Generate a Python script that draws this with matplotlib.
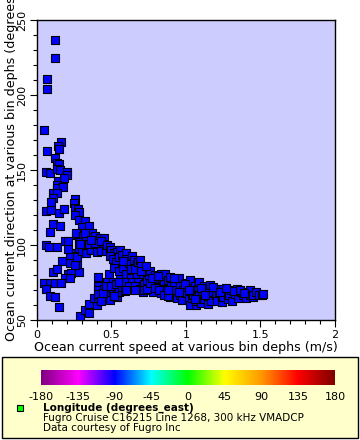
import numpy as np
import matplotlib
matplotlib.use('Agg')
import matplotlib.pyplot as plt
from matplotlib.colors import LinearSegmentedColormap
from matplotlib.patches import Rectangle
from matplotlib.ticker import MultipleLocator

# (speed m/s, direction degrees)
upper_scatter = [(0.12, 237), (0.12, 225), (0.07, 211), (0.07, 204), (0.05, 177),
                 (0.067, 163), (0.16, 168.6), (0.14, 166), (0.15, 164), (0.12, 158),
                 (0.058, 149), (0.087, 148), (0.136, 154.5), (0.148, 153.7), (0.136, 150.7),
                 (0.154, 150), (0.2, 149), (0.2, 147), (0.139, 143), (0.18, 145),
                 (0.134, 140), (0.134, 138), (0.177, 139), (0.11, 134.4), (0.136, 134.4),
                 (0.105, 131.6), (0.092, 128.7), (0.058, 122.7), (0.092, 123.3), (0.148, 121.5),
                 (0.18, 124), (0.11, 114), (0.154, 113), (0.085, 109), (0.255, 131),
                 (0.248, 128), (0.257, 125), (0.273, 124), (0.28, 122), (0.253, 120),
                 (0.28, 117), (0.32, 116), (0.30, 112), (0.35, 113), (0.26, 107),
                 (0.30, 105), (0.37, 108), (0.19, 103), (0.21, 103), (0.28, 104)]

left_cluster = [(0.062, 100), (0.078, 98.5), (0.134, 99), (0.17, 89.5), (0.23, 91),
                (0.26, 95), (0.25, 93), (0.21, 81), (0.23, 81.5), (0.19, 77.8),
                (0.105, 81.8), (0.134, 84), (0.045, 74.6), (0.085, 74.6), (0.12, 74.6),
                (0.16, 74.6), (0.22, 77.8), (0.06, 70.7), (0.09, 66.2), (0.12, 65.6),
                (0.146, 59), (0.21, 97.3), (0.28, 94.4), (0.22, 92), (0.22, 88),
                (0.27, 87), (0.28, 82), (0.255, 87), (0.27, 92)]

lower_branch = [(0.29, 53), (0.32, 57), (0.35, 55), (0.35, 61), (0.40, 60),
                (0.38, 65), (0.41, 64.5), (0.41, 72.7), (0.41, 70), (0.41, 67.3),
                (0.45, 71), (0.48, 70), (0.47, 66.7), (0.51, 69), (0.49, 63.3),
                (0.54, 65.6), (0.41, 79), (0.48, 81), (0.47, 75.6), (0.51, 75.6),
                (0.43, 63), (0.535, 71), (0.44, 68), (0.46, 73), (0.50, 72.5),
                (0.53, 74), (0.55, 68.5), (0.57, 72), (0.58, 76), (0.56, 78.5),
                (0.59, 69.5), (0.52, 66), (0.89, 65.6), (0.65, 72)]

hump = [(0.264, 107.8), (0.31, 106), (0.35, 105.5), (0.39, 106), (0.42, 105),
        (0.45, 104.7), (0.28, 102), (0.33, 103), (0.37, 102.5), (0.41, 103),
        (0.44, 101), (0.28, 98), (0.31, 99.5), (0.34, 98), (0.38, 99),
        (0.41, 98), (0.45, 98.5), (0.30, 96), (0.33, 95), (0.36, 96.5),
        (0.40, 95.5), (0.43, 96), (0.46, 96), (0.29, 101), (0.35, 100.5),
        (0.39, 101.5), (0.32, 108), (0.36, 103.5), (0.43, 102.5), (0.47, 100)]

main_band = [(0.49, 99), (0.50, 96.7), (0.52, 95), (0.54, 95.5), (0.56, 96.7),
             (0.49, 93), (0.51, 91), (0.53, 89), (0.55, 92), (0.57, 93.5),
             (0.52, 85), (0.55, 83), (0.58, 85), (0.60, 94.4), (0.60, 91),
             (0.62, 88), (0.58, 89.5), (0.60, 81), (0.63, 84), (0.64, 93),
             (0.65, 90), (0.67, 87.5), (0.63, 78), (0.67, 80.5), (0.66, 84),
             (0.68, 89), (0.69, 90), (0.70, 86), (0.72, 83), (0.71, 79),
             (0.55, 75.6), (0.60, 75.6), (0.64, 75.6), (0.68, 75.6), (0.62, 72.5),
             (0.66, 73), (0.69, 71), (0.72, 74), (0.60, 70), (0.66, 70),
             (0.71, 69), (0.72, 70), (0.74, 77), (0.75, 80), (0.76, 83),
             (0.77, 73), (0.78, 69), (0.79, 80), (0.80, 76), (0.81, 72),
             (0.83, 81), (0.83, 67.8), (0.84, 78), (0.85, 74), (0.86, 70.5),
             (0.86, 81), (0.88, 76.5), (0.89, 79), (0.90, 72.5), (0.91, 68),
             (0.92, 75), (0.93, 70), (0.94, 64.5), (0.95, 77.8), (0.96, 73),
             (0.96, 66.5), (0.97, 63.3), (0.98, 70), (0.99, 67.8), (1.00, 75),
             (1.01, 72), (1.02, 64), (1.03, 76.7), (1.03, 60), (1.04, 64.5),
             (1.04, 69.5), (1.05, 67), (1.06, 73), (1.07, 60), (1.07, 63),
             (1.08, 70.5), (1.09, 75.6), (1.09, 66.7), (1.10, 61.5), (1.11, 68),
             (1.12, 72.5), (1.12, 64), (1.14, 70), (1.15, 61), (1.16, 73.3),
             (1.16, 66), (1.17, 63), (1.18, 69), (1.20, 71), (1.20, 66.7),
             (1.21, 62.5), (1.22, 68), (1.24, 62), (1.25, 71), (1.25, 65.5),
             (1.27, 68.5), (1.28, 64), (1.29, 66.7), (1.30, 70), (1.31, 63),
             (1.33, 67.5), (1.34, 71), (1.35, 65), (1.37, 68.5), (1.38, 66.7),
             (1.40, 64.7), (1.41, 69), (1.43, 70), (1.43, 67), (1.45, 65.6),
             (1.45, 66.7), (1.47, 68.5), (1.49, 67), (1.51, 66.7), (1.52, 67.5),
             (0.74, 71), (0.76, 75), (0.79, 71.5), (0.82, 70), (0.85, 66.5),
             (0.88, 66), (0.70, 83), (0.73, 86), (0.77, 78), (0.81, 79.5),
             (0.88, 70), (0.92, 78), (0.95, 69), (0.99, 74), (1.02, 70),
             (1.06, 64), (1.10, 71.5), (1.13, 67), (1.18, 72), (1.23, 69),
             (1.27, 71.5), (1.32, 69.5), (1.36, 70), (1.39, 68)]

cbar_ticks = [-180, -135, -90, -45, 0, 45, 90, 135, 180]
cbar_colors = ['#800080', '#ff00ff', '#0000ff', '#00ffff', '#00ff00',
               '#ffff00', '#ff9900', '#ff0000', '#800000']

legend_title = 'Longitude (degrees_east)'
legend_lines = ['Fugro Cruise C16215 Line 1268, 300 kHz VMADCP',
                'Data courtesy of Fugro Inc']

pts = np.array(upper_scatter + left_cluster + lower_branch + hump + main_band)
speed = pts[:, 0]
direction = pts[:, 1]

W, H = 360, 440
fig = plt.figure(figsize=(W / 100, H / 100), dpi=100)

# legend box (drawn first, behind everything)
fig.patches.append(Rectangle((2 / W, 1 - 438 / H), 356 / W, 81 / H,
                             transform=fig.transFigure, facecolor='#ffffcc',
                             edgecolor='black', linewidth=1, zorder=-5))

ax = fig.add_axes([37 / W, 1 - 320 / H, 298 / W, 300 / H])
ax.set_facecolor('#ccccff')
ax.scatter(speed, direction, marker='s', s=26, c='#0000ff',
           edgecolors='black', linewidths=0.8, zorder=3)
ax.set_xlim(0, 2)
ax.set_ylim(50, 250)
ax.xaxis.set_minor_locator(MultipleLocator(0.1))
ax.yaxis.set_major_locator(MultipleLocator(50))
ax.yaxis.set_minor_locator(MultipleLocator(10))
ax.set_xticks([0, 0.5, 1, 1.5, 2])
ax.set_xticklabels(['0', '0.5', '1', '1.5', '2'])
ax.tick_params(which='major', length=5, width=0.8, labelsize=8, pad=2)
ax.tick_params(which='minor', length=3, width=0.8)
ax.tick_params(axis='y', labelrotation=90)
for lab in ax.get_yticklabels():
    lab.set_va('center')
for sp in ax.spines.values():
    sp.set_linewidth(1)

fig.text(186 / W, 1 - 347 / H, 'Ocean current speed at various bin dephs (m/s)',
         ha='center', va='center', fontsize=9.1)
fig.text(12 / W, 1 - 341 / H,
         'Ocean current direction at various bin dephs (degrees_true)',
         rotation=90, ha='center', va='bottom', fontsize=9.1)

cmap = LinearSegmentedColormap.from_list('lon', cbar_colors)
cax = fig.add_axes([41 / W, 1 - 385 / H, 294 / W, 15 / H])
grad = np.linspace(-180, 180, 256).reshape(1, -1)
cax.imshow(grad, aspect='auto', cmap=cmap, extent=[-180, 180, 0, 1])
cax.set_yticks([])
cax.set_xticks(cbar_ticks)
cax.set_xticklabels([str(t) for t in cbar_ticks])
cax.tick_params(axis='x', length=0, labelsize=8, pad=5)
for sp in cax.spines.values():
    sp.set_visible(False)

fig.add_artist(Rectangle((17 / W, 1 - 411 / H), 6 / W, 6 / H,
                         transform=fig.transFigure, facecolor='#00ff00',
                         edgecolor='black', linewidth=0.8))
fig.text(43 / W, 1 - 408 / H, legend_title, fontsize=7.5, fontweight='bold',
         va='center', ha='left')
fig.text(43 / W, 1 - 418 / H, legend_lines[0], fontsize=7.5, va='center', ha='left')
fig.text(43 / W, 1 - 428 / H, legend_lines[1], fontsize=7.5, va='center', ha='left')

fig.savefig('out.png', dpi=100)
